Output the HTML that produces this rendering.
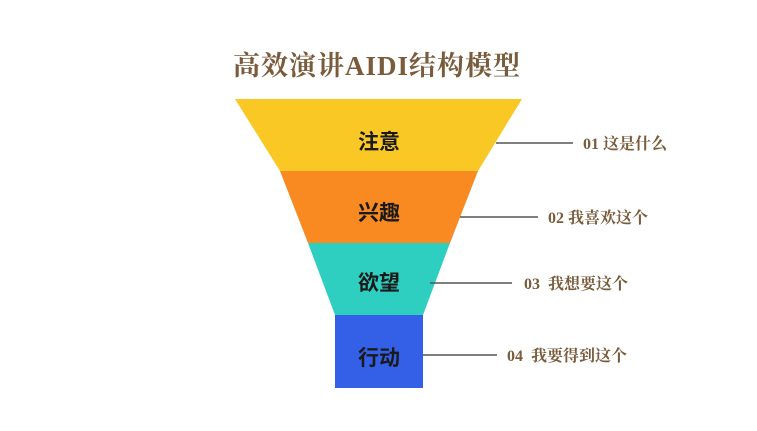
<!DOCTYPE html>
<html><head><meta charset="utf-8"><style>
body{margin:0;width:757px;height:426px;background:#fff;overflow:hidden}
</style></head><body>
<svg width="757" height="426" xmlns="http://www.w3.org/2000/svg">
<text x="377" y="75" text-anchor="middle" font-family="'Liberation Serif','Noto Serif CJK SC',serif" font-size="27" font-weight="bold" fill="#7a5c3c" letter-spacing="1">高效演讲AIDI结构模型</text>
<polygon points="235,99 522,99 478,171 280,171" fill="#f9c825"/>
<polygon points="280,171 478,171 450,243 308,243" fill="#f98a22"/>
<polygon points="308,243 450,243 423,315 335,315" fill="#2ecfc0"/>
<rect x="335" y="315" width="88" height="73" fill="#3460e8"/>
<g font-family="'Liberation Sans','Noto Sans CJK SC',sans-serif" font-size="21" font-weight="bold" fill="#1a1a1a" text-anchor="middle">
<text x="379" y="149">注意</text>
<text x="379" y="220">兴趣</text>
<text x="379" y="290">欲望</text>
<text x="379" y="365">行动</text>
</g>
<g stroke="#555" stroke-width="1.5">
<line x1="496" y1="143" x2="573" y2="143"/>
<line x1="460" y1="217" x2="538" y2="217"/>
<line x1="430" y1="283" x2="512" y2="283"/>
<line x1="423" y1="355" x2="497" y2="355"/>
</g>
<g font-family="'Liberation Serif','Noto Serif CJK SC',serif" font-size="16" font-weight="bold" fill="#7a5c3c">
<text x="583" y="149">01 这是什么</text>
<text x="548" y="223">02 我喜欢这个</text>
<text x="524" y="289" xml:space="preserve">03  我想要这个</text>
<text x="507" y="361" xml:space="preserve">04  我要得到这个</text>
</g>
</svg>
</body></html>
